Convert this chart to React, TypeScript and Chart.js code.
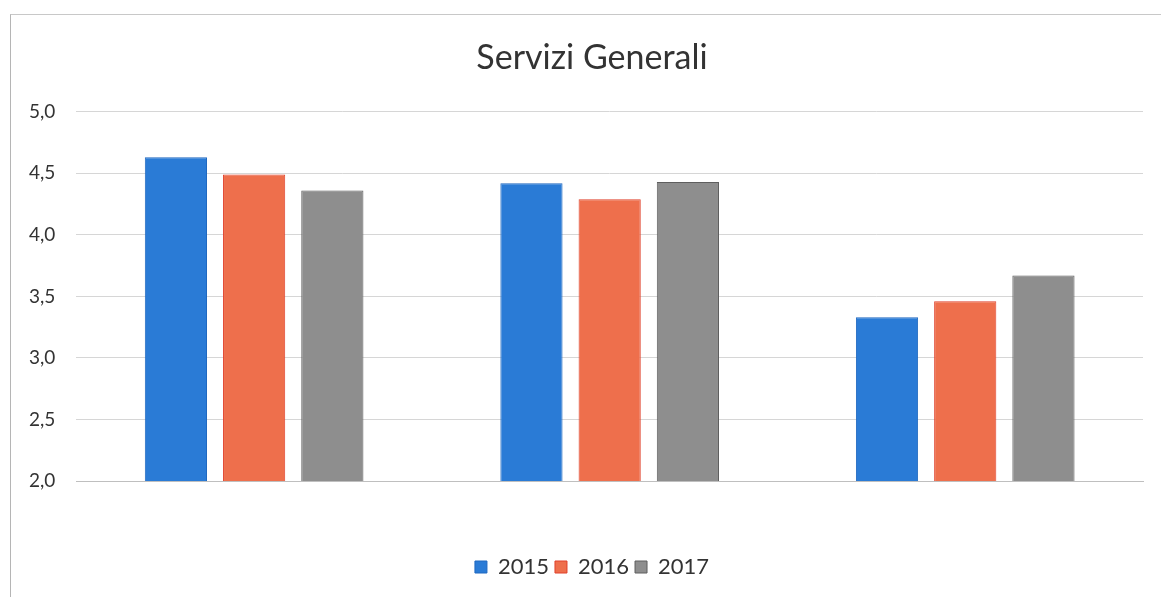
import React, { useEffect, useRef } from "react";
import { Chart, registerables } from "chart.js";

Chart.register(...registerables);

const categories: string[] = ["Gruppo 1", "Gruppo 2", "Gruppo 3"];
const series2015: number[] = [4.63, 4.42, 3.33];
const series2016: number[] = [4.49, 4.29, 3.46];
const series2017: number[] = [4.36, 4.43, 3.67];
const seriesLabels: string[] = ["2015", "2016", "2017"];
const yTicks: number[] = [2.0, 2.5, 3.0, 3.5, 4.0, 4.5, 5.0];

const FONT = "Lato, 'Open Sans', 'DejaVu Sans', sans-serif";
const CANVAS_W = 1180;

export default function App() {
  const ref = useRef<HTMLCanvasElement | null>(null);

  useEffect(() => {
    document.body.style.margin = "0";
    if (!ref.current) return;
    const chart = new Chart(ref.current, {
      type: "bar",
      data: {
        labels: categories,
        datasets: [
          {
            label: seriesLabels[0],
            data: series2015,
            backgroundColor: "#2a7bd6",
            borderColor: "#1f68c0",
            borderWidth: 1,
          },
          {
            label: seriesLabels[1],
            data: series2016,
            backgroundColor: "#ee6f4c",
            borderColor: "#e0412b",
            borderWidth: 1,
          },
          {
            label: seriesLabels[2],
            data: series2017,
            backgroundColor: "#8e8e8e",
            borderColor: "#5e5e5e",
            borderWidth: 1,
          },
        ],
      },
      options: {
        responsive: false,
        animation: false,
        layout: { padding: { left: 8, right: 4, top: 38, bottom: 9 } },
        datasets: {
          bar: { categoryPercentage: 0.66, barPercentage: 0.795 },
        },
        plugins: {
          title: {
            display: true,
            text: "Servizi Generali",
            color: "#333333",
            font: { family: FONT, size: 34, weight: "normal" },
            padding: { top: 0, bottom: 33 },
          },
          legend: {
            position: "bottom",
            labels: {
              color: "#333333",
              boxWidth: 12,
              boxHeight: 12,
              padding: 6,
              font: { family: FONT, size: 22 },
            },
          },
          tooltip: { enabled: false },
        },
        scales: {
          x: {
            grid: { display: false },
            border: { display: true, color: "#bfbfbf" },
            ticks: { display: false },
            afterFit: (scale: any) => {
              scale.height = 69;
            },
          },
          y: {
            min: yTicks[0],
            max: yTicks[yTicks.length - 1],
            afterBuildTicks: (axis: any) => {
              axis.ticks = yTicks.map((v) => ({ value: v }));
            },
            ticks: {
              color: "#333333",
              padding: 21,
              font: { family: FONT, size: 19 },
              callback: (v: any) => Number(v).toFixed(1).replace(".", ","),
            },
            grid: { color: "#d6d6d6", drawTicks: false },
            border: { display: false },
          },
          yRight: {
            position: "right",
            min: yTicks[0],
            max: yTicks[yTicks.length - 1],
            grid: { display: false, drawTicks: false },
            border: { display: false },
            ticks: { display: false },
            afterFit: (scale: any) => {
              scale.width = 33;
            },
          },
        },
      },
    });
    return () => chart.destroy();
  }, []);

  return (
    <div style={{ position: "absolute", left: 0, top: 0, width: 1161, height: 597, background: "#fff", overflow: "hidden" }}>
      <canvas ref={ref} width={CANVAS_W} height={597} style={{ position: "absolute", left: 0, top: 0 }} />
      <div
        style={{
          position: "absolute",
          left: 10,
          top: 14,
          width: 1170,
          height: 600,
          borderLeft: "1px solid #b5b5b5",
          borderTop: "1px solid #c8c8c8",
          pointerEvents: "none",
        }}
      />
    </div>
  );
}
